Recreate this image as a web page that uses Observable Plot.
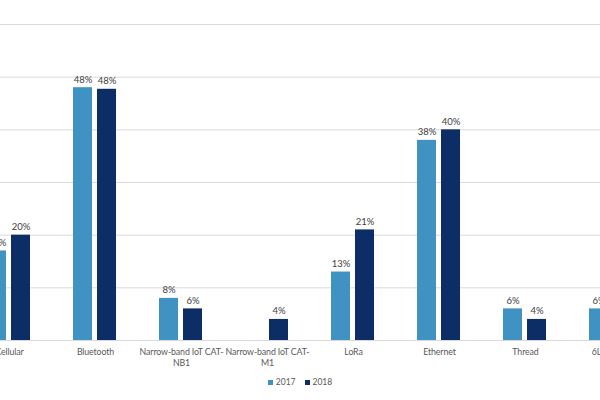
<!DOCTYPE html>
<html>
<head>
<meta charset="utf-8">
<script src="https://cdn.jsdelivr.net/npm/d3@7"></script>
<script src="https://cdn.jsdelivr.net/npm/@observablehq/plot@0.6"></script>
<style>
  html, body { margin: 0; padding: 0; background: #fff; }
  #chart { width: 600px; height: 400px; overflow: hidden; position: relative; }
  #legend { display: flex; justify-content: center; align-items: center; gap: 9px;
    font-family: Lato, "Open Sans", sans-serif; font-size: 8.5px; color: #595959; padding-top: 7px; }
  .sw { display: inline-block; width: 5px; height: 5px; margin-right: 3px; }
  .item { display: flex; align-items: center; }
  g[aria-label="fx-axis tick label"] text { letter-spacing: -0.12px; }
</style>
</head>
<body>
<div id="chart"></div>
<script>
const categories = ["Cellular", "Bluetooth", "Narrow-band IoT CAT-NB1", "Narrow-band IoT CAT-M1", "LoRa", "Ethernet", "Thread", "6LoWPAN"];
const tickLabels = ["Cellular", "Bluetooth", "Narrow-band IoT CAT-\nNB1", "Narrow-band IoT CAT-\nM1", "LoRa", "Ethernet", "Thread", "6LoWPAN"];
const years = ["2017", "2018"];
const values2017 = [17, 48, 8, null, 13, 38, 6, 6];
const values2018 = [20, 47.7, 6, 4, 21, 40, 4, null];
const yTicks = [0, 10, 20, 30, 40, 50, 60];
const colors = ["#3F92C1", "#0C2D66"];

const data = [];
categories.forEach((c, i) => {
  if (values2017[i] != null) data.push({category: c, year: "2017", value: values2017[i]});
  if (values2018[i] != null) data.push({category: c, year: "2018", value: values2018[i]});
});

const font = "Lato, 'Open Sans', sans-serif";
const chart = Plot.plot({
  width: 600,
  height: 370,
  marginLeft: -35,
  marginRight: -54,
  marginTop: 24,
  marginBottom: 30,
  style: {fontFamily: font, overflow: "hidden", background: "white"},
  fx: {domain: categories, padding: 0, label: null},
  x: {domain: years, paddingInner: 0.2, paddingOuter: 0.86, axis: null},
  y: {domain: [0, 60], axis: null},
  color: {domain: years, range: colors},
  marks: [
    Plot.ruleY(yTicks, {stroke: "#d9d9d9", strokeWidth: 1}),
    Plot.barY(data, {fx: "category", x: "year", y: "value", fill: "year"}),
    Plot.text(data, {fx: "category", x: "year", y: "value", text: d => Math.round(d.value) + "%",
      dy: -5, lineAnchor: "bottom", fill: "#404040", fontSize: 9.5}),
    Plot.axisFx({anchor: "bottom", tickSize: 0, tickPadding: 6.5, label: null,
      tickFormat: c => tickLabels[categories.indexOf(c)], fontSize: 8.8, fill: "#595959", lineHeight: 1.25})
  ]
});
document.getElementById("chart").appendChild(chart);

const legend = document.createElement("div");
legend.id = "legend";
years.forEach((y, i) => {
  const item = document.createElement("span");
  item.className = "item";
  const sw = document.createElement("span");
  sw.className = "sw";
  sw.style.background = colors[i];
  item.appendChild(sw);
  item.appendChild(document.createTextNode(y));
  legend.appendChild(item);
});
document.getElementById("chart").appendChild(legend);
</script>
</body>
</html>
